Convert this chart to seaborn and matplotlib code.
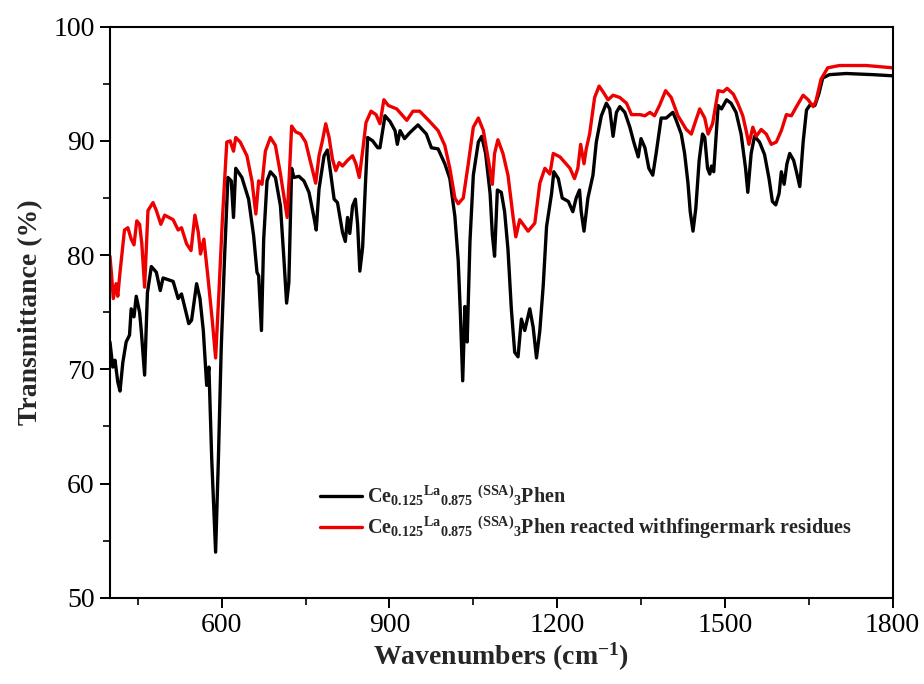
import numpy as np
import pandas as pd
import matplotlib
matplotlib.use('Agg')
import matplotlib.pyplot as plt
from matplotlib.ticker import MultipleLocator, AutoMinorLocator
import seaborn as sns

# FTIR spectra
wn_black = [400, 405, 409, 414, 418, 423, 429, 435, 438, 443, 447, 453, 456, 462, 467, 474, 483, 490, 495,
            513, 522, 528, 541, 546, 555, 561, 567, 573, 577, 582, 589, 594, 599, 605, 611, 617, 621, 625,
            636, 648, 657, 663, 666, 671, 675, 681, 687, 696, 705, 711, 716, 720, 725, 729, 738, 747, 756,
            765, 769, 774, 783, 789, 795, 801, 807, 816, 821, 825, 829, 834, 839, 843, 847, 852, 857, 861,
            870, 879,
            883, 892, 901, 910, 914, 919, 927, 936, 951, 966, 975, 987, 999, 1008, 1017, 1023, 1027, 1031,
            1035, 1039, 1044, 1050, 1059, 1065, 1072, 1080, 1084, 1088, 1093, 1100, 1106, 1112, 1118, 1124,
            1130, 1136, 1142, 1151, 1157, 1163, 1169, 1175, 1181, 1190, 1194, 1202, 1209, 1220, 1228, 1234,
            1240, 1243, 1248, 1255, 1264, 1270, 1279, 1288, 1294, 1300, 1306, 1312, 1321, 1330, 1337, 1345,
            1350, 1357, 1364, 1371, 1377, 1386, 1395, 1407, 1413, 1422, 1428, 1434, 1438, 1443, 1448, 1454,
            1460, 1464, 1469, 1473, 1476, 1480, 1488, 1494, 1503, 1511, 1520, 1529, 1537, 1541, 1547, 1553,
            1562, 1571, 1579, 1585, 1591, 1597, 1601, 1606, 1611, 1616, 1623, 1628, 1634, 1640, 1646, 1653,
            1661, 1668, 1675, 1687, 1717, 1765, 1800]
t_black = [72.4, 70.2, 70.8, 68.9, 68.1, 70.6, 72.4, 73.0, 75.3, 74.6, 76.4, 75.0, 73.4, 69.5, 76.7, 79.0,
           78.5, 76.9, 78.0, 77.7, 76.2, 76.6, 74.0, 74.3, 77.5, 76.2, 73.4, 68.6, 70.2, 62.2, 54.0, 62.2,
           71.8, 79.8, 86.8, 86.5, 83.3, 87.6, 86.8, 84.9, 81.7, 78.5, 78.2, 73.4, 81.4, 86.5, 87.3, 86.8,
           84.3, 79.8, 75.8, 77.6, 87.6, 86.8, 86.9, 86.5, 85.5, 83.3, 82.2, 85.8, 88.7, 89.2, 87.1, 84.9,
           84.6, 82.0, 81.2, 83.3, 81.9, 84.3, 84.9, 82.7, 78.6, 80.7, 86.2, 90.3, 90.0, 89.4,
           89.4, 92.2, 91.7, 90.9, 89.7, 90.9, 90.2, 90.7, 91.4, 90.6, 89.4, 89.3, 88.0, 86.7, 83.4, 79.5,
           74.7, 69.0, 75.5, 72.4, 81.2, 87.0, 89.9, 90.4, 88.9, 85.4, 81.8, 79.9, 85.7, 85.5, 83.8, 80.5,
           75.3, 71.5, 71.1, 74.4, 73.4, 75.3, 73.7, 71.0, 73.4, 77.3, 82.5, 85.4, 87.3, 86.7, 85.0, 84.7,
           83.8, 85.0, 85.7, 83.8, 82.1, 85.0, 87.0, 89.9, 92.2, 93.3, 92.8, 90.4, 92.5, 93.0, 92.5, 91.2,
           89.9, 88.6,
           90.2, 89.4, 87.6, 87.0, 88.9, 92.0, 92.0, 92.5, 91.8, 90.6, 88.9, 86.3, 83.8, 82.1, 84.1, 88.3,
           90.6, 90.3, 87.6, 87.1, 87.8, 87.3, 93.1, 92.8, 93.6, 93.3, 92.5, 90.6, 87.6, 85.5, 88.9, 90.4,
           89.9, 88.8, 86.7, 84.7, 84.4, 85.4, 87.3, 86.2, 88.0, 88.9, 88.3, 87.3, 86.0, 89.9, 92.7, 93.2,
           93.1, 94.1, 95.5, 95.8, 95.9, 95.8, 95.7]

wn_red = [400, 403, 406, 411, 414, 418, 426, 432, 438, 443, 448, 453, 457, 462, 468, 477, 483, 491, 498,
          513, 522, 528, 537, 545, 552, 558, 562, 568, 575, 583, 589, 595, 601, 609, 615, 621, 625, 633,
          645, 654, 661, 666, 672, 678, 687, 696, 705, 713, 717, 721, 725, 732, 741, 750, 759, 768, 774,
          780, 786, 792, 798, 804, 810, 816, 825, 834, 840, 846, 852, 858, 867, 876,
          883, 890, 898, 913, 931, 942, 954, 972, 987, 999, 1008, 1017, 1023, 1032, 1041, 1050, 1059,
          1068, 1077, 1084, 1088, 1094, 1103, 1112, 1121, 1126, 1133, 1142, 1148, 1160, 1169, 1178, 1187,
          1193, 1205, 1214, 1223, 1231, 1237, 1242, 1248, 1252, 1258, 1267, 1275, 1282, 1291, 1300, 1312,
          1324, 1333, 1342,
          1348, 1357, 1366, 1374, 1383, 1394, 1404, 1416, 1431, 1440, 1446, 1455, 1464, 1470, 1478, 1488,
          1497, 1504, 1515, 1523, 1532, 1538, 1543, 1550, 1556, 1565, 1574, 1583, 1592, 1601, 1610, 1619,
          1628, 1640, 1649, 1658, 1663, 1672, 1684, 1705, 1753, 1800]
t_red = [79.9, 78.2, 76.2, 77.5, 76.4, 78.5, 82.2, 82.4, 81.4, 80.9, 83.0, 82.7, 81.0, 77.2, 83.9, 84.6,
         83.9, 82.7, 83.5, 83.1, 82.2, 82.4, 81.0, 80.4, 83.5, 82.0, 80.1, 81.4, 78.2, 74.3, 71.0, 76.8,
         83.0, 89.9, 90.0, 89.1, 90.3, 89.9, 88.7, 86.5, 83.6, 86.5, 86.2, 89.1, 90.3, 89.6, 87.1, 84.6,
         83.3, 87.1, 91.3, 90.8, 90.6, 89.9, 88.1, 86.3, 88.7, 90.0, 91.5, 90.3, 88.4, 87.4, 88.1, 87.8,
         88.3, 88.7, 88.0, 86.8, 89.1, 91.6, 92.6, 92.3,
         91.5, 93.6, 93.1, 92.8, 91.8, 92.6, 92.6, 91.7, 90.9, 89.6, 87.6, 85.0, 84.5, 85.0, 88.0, 91.2,
         92.0, 90.9, 88.3, 86.2, 88.9, 90.1, 88.9, 87.0, 83.4, 81.6, 83.1, 82.5, 82.1, 82.8, 86.3, 87.6,
         87.1, 88.9, 88.6, 88.1, 87.6, 86.7, 87.6, 89.7, 88.0, 89.3, 90.6, 93.8, 94.8, 94.3, 93.6, 94.0,
         93.8, 93.3, 92.3, 92.3,
         92.3, 92.2, 92.5, 92.2, 93.1, 94.4, 93.8, 92.2, 91.0, 90.6, 91.5, 92.8, 92.0, 90.6, 91.5, 94.4,
         94.3, 94.6, 94.1, 93.3, 92.2, 90.9, 89.7, 91.2, 90.4, 91.0, 90.6, 89.7, 89.9, 90.9, 92.3, 92.2,
         93.0, 94.0, 93.6, 93.0, 93.5, 95.4, 96.4, 96.6, 96.6, 96.4]

label_black = r'Ce$_{0.125}$$^{La}$$_{0.875}$ $^{(SSA)}$$_{3}$Phen'
label_red = r'Ce$_{0.125}$$^{La}$$_{0.875}$ $^{(SSA)}$$_{3}$Phen reacted withfingermark residues'

sns.set_style('ticks')
plt.rcParams['font.family'] = ['Liberation Serif', 'DejaVu Serif']
plt.rcParams['mathtext.default'] = 'regular'

fig = plt.figure(figsize=(9.24, 6.84), dpi=100)
ax = fig.add_axes([0.119, 0.126, 0.847, 0.835])

sns.lineplot(x=wn_black, y=t_black, color='black', linewidth=2.4, ax=ax, label=label_black)
sns.lineplot(x=wn_red, y=t_red, color='#ee0000', linewidth=2.4, ax=ax, label=label_red)

ax.set_xlim(400, 1800)
ax.set_ylim(50, 100)
ax.xaxis.set_major_locator(MultipleLocator(300))
ax.xaxis.set_minor_locator(AutoMinorLocator(2))
ax.yaxis.set_major_locator(MultipleLocator(10))
ax.yaxis.set_minor_locator(AutoMinorLocator(2))
ax.tick_params(which='major', direction='out', length=7, width=1.4, labelsize=20, colors='black', pad=4)
ax.tick_params(which='minor', direction='out', length=5, width=1.4)
for s in ax.spines.values():
    s.set_linewidth(1.5)
    s.set_color('black')
    s.set_visible(True)

ax.set_xlabel(r'Wavenumbers (cm$^{-1}$)', fontsize=20, fontweight='bold', labelpad=2)
ax.set_ylabel('Transmittance (%)', fontsize=20, fontweight='bold', labelpad=7)

leg = ax.legend(loc='lower left', bbox_to_anchor=(0.268, 0.099), frameon=False,
                prop={'weight': 'bold', 'size': 14.5}, handlelength=2.1, handletextpad=0.25,
                labelspacing=0.35, borderpad=0, borderaxespad=0)
for h in leg.get_lines():
    h.set_linewidth(2.4)

plt.savefig('out.png', dpi=100)
print("saved")
